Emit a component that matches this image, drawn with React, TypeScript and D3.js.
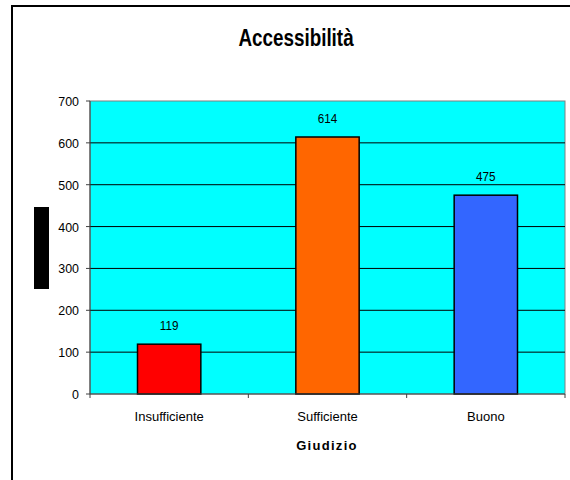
import React from "react";
import * as d3 from "d3";

const categories = ["Insufficiente", "Sufficiente", "Buono"];
const values = [119, 614, 475];
const barColors = ["#FF0000", "#FF6600", "#3366FF"];
const yTicks = [0, 100, 200, 300, 400, 500, 600, 700];

// text squeezed horizontally, the source used a narrow font
const Narrow = ({ x, y, sx = 0.9, children, ...rest }: any) => (
  <text transform={`translate(${x},${y}) scale(${sx},1)`} {...rest}>{children}</text>
);

const App = () => {
  const width = 570;
  const height = 480;
  const plot = { left: 90, right: 565, top: 101, bottom: 394 };

  const x = d3.scaleBand().domain(categories).range([plot.left, plot.right]);
  const y = d3.scaleLinear().domain([0, 700]).range([plot.bottom, plot.top]);
  const barW = x.bandwidth() * 0.4;
  const font = "'Liberation Sans', Arial, sans-serif";

  return (
    <svg width={width} height={height} style={{ position: "absolute", left: 0, top: 0 }} fontFamily={font}>
      <rect x={0} y={0} width={width} height={height} fill="#fff" />
      <rect x={12} y={6} width={600} height={500} fill="none" stroke="#000" strokeWidth={2} />
      <Narrow x={296} y={46} sx={0.82} textAnchor="middle" fontSize={23} fontWeight="bold">Accessibilità</Narrow>

      <rect x={plot.left} y={plot.top} width={plot.right - plot.left} height={plot.bottom - plot.top}
        fill="#00FFFF" stroke="#808080" strokeWidth={1} />
      {yTicks.filter(t => t > 0 && t < 700).map(t => (
        <line key={t} x1={plot.left} x2={plot.right} y1={y(t)} y2={y(t)} stroke="#000" strokeWidth={1} />
      ))}

      {categories.map((c, i) => (
        <g key={c}>
          <rect x={x(c)! + (x.bandwidth() - barW) / 2} y={y(values[i])} width={barW}
            height={y(0) - y(values[i])} fill={barColors[i]} stroke="#000" strokeWidth={1.5} />
          <Narrow x={x(c)! + x.bandwidth() / 2} y={y(values[i]) - 14} sx={0.9} textAnchor="middle" fontSize={13}>
            {values[i]}
          </Narrow>
          <Narrow x={x(c)! + x.bandwidth() / 2} y={421} sx={1} textAnchor="middle" fontSize={13}>{c}</Narrow>
        </g>
      ))}

      <line x1={plot.left} x2={plot.left} y1={plot.top} y2={plot.bottom} stroke="#404040" />
      <line x1={plot.left} x2={plot.right} y1={plot.bottom} y2={plot.bottom} stroke="#404040" />
      {yTicks.map(t => (
        <g key={t}>
          <line x1={plot.left - 4} x2={plot.left} y1={y(t)} y2={y(t)} stroke="#404040" />
          <Narrow x={79} y={y(t) + 5} sx={0.92} textAnchor="end" fontSize={13.5}>{t}</Narrow>
        </g>
      ))}
      {[...categories.map(c => x(c)!), plot.right].map((px, i) => (
        <line key={i} x1={px} x2={px} y1={plot.bottom} y2={plot.bottom + 4} stroke="#404040" />
      ))}

      <text x={327} y={450} textAnchor="middle" fontSize={13} fontWeight="bold" letterSpacing={1.3}>Giudizio</text>
      <rect x={34} y={207} width={15} height={82} fill="#000" />
    </svg>
  );
};

export default App;
